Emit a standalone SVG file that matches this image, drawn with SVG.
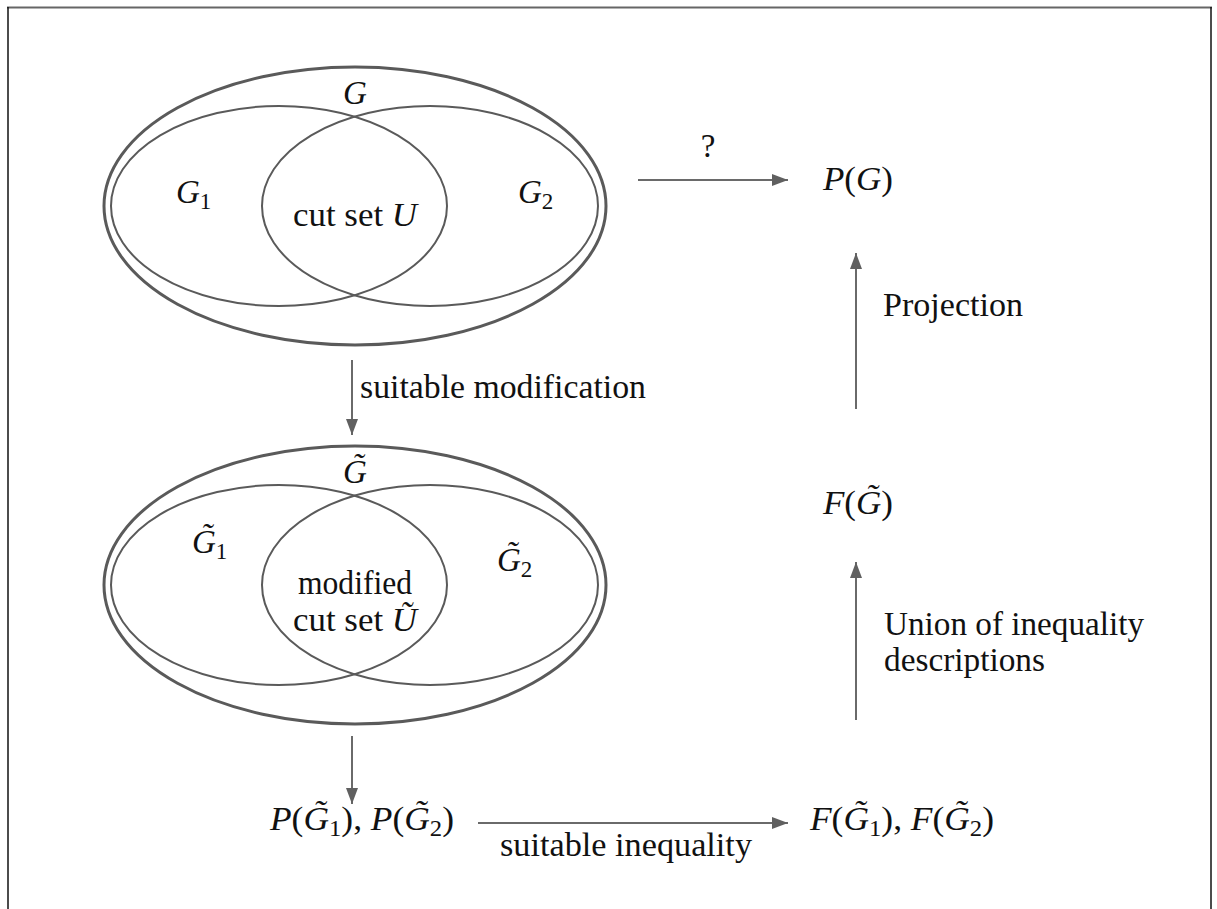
<svg xmlns="http://www.w3.org/2000/svg" width="1217" height="909" viewBox="0 0 1217 909">
<style>
text{font-family:"Liberation Serif","Times New Roman","DejaVu Serif",serif}
.t{font-size:33px;fill:#111}
.i{font-style:italic}
.s{font-size:23px;font-style:normal}
.outer{fill:none;stroke:#5a5a5a;stroke-width:3}
.inner{fill:none;stroke:#5a5a5a;stroke-width:2}
.c{stroke:#6a6a6a;stroke-width:2;fill:none}
</style>
<defs>
<marker id="ah" markerWidth="16" markerHeight="12" refX="16" refY="6" orient="auto" markerUnits="userSpaceOnUse">
<path d="M0,0 L16,6 L0,12 Z" fill="#606060"/>
</marker>
</defs>
<rect width="1217" height="909" fill="#fff"/>
<g id="frame">
<line x1="7" y1="7.5" x2="1212" y2="7.5" stroke="#666" stroke-width="2"/>
<line x1="8" y1="7" x2="8" y2="909" stroke="#111" stroke-width="1.5"/>
<line x1="1211" y1="7" x2="1211" y2="909" stroke="#111" stroke-width="1.5"/>
</g>
<g id="graphG">
<ellipse class="outer" cx="355" cy="206" rx="251" ry="139"/>
<ellipse class="inner" cx="279" cy="206" rx="168" ry="100"/>
<ellipse class="inner" cx="430" cy="206" rx="168" ry="100"/>
<text class="t i" x="355" y="104" text-anchor="middle">G</text>
<text class="t" x="176" y="203"><tspan class="i">G</tspan><tspan class="s" dy="6">1</tspan></text>
<text class="t" x="518" y="203"><tspan class="i">G</tspan><tspan class="s" dy="6">2</tspan></text>
<text class="t" x="293" y="226" textLength="124" lengthAdjust="spacingAndGlyphs">cut set <tspan class="i">U</tspan></text>
</g>
<g id="graphGtilde">
<ellipse class="outer" cx="355" cy="585" rx="251" ry="139"/>
<ellipse class="inner" cx="279" cy="585" rx="168" ry="100"/>
<ellipse class="inner" cx="430" cy="585" rx="168" ry="100"/>
<text class="t i" x="355" y="483" text-anchor="middle">G̃</text>
<text class="t" x="192" y="553"><tspan class="i">G̃</tspan><tspan class="s" dy="6">1</tspan></text>
<text class="t" x="497" y="571"><tspan class="i">G̃</tspan><tspan class="s" dy="6">2</tspan></text>
<text class="t" x="298" y="594" textLength="114" lengthAdjust="spacingAndGlyphs">modified</text>
<text class="t" x="293" y="631" textLength="124" lengthAdjust="spacingAndGlyphs">cut set <tspan class="i">Ũ</tspan></text>
</g>
<g id="PG">
<text class="t" x="823" y="190" textLength="70" lengthAdjust="spacingAndGlyphs"><tspan class="i">P</tspan>(<tspan class="i">G</tspan>)</text>
</g>
<g id="FGtilde">
<text class="t" x="823" y="514" textLength="70" lengthAdjust="spacingAndGlyphs"><tspan class="i">F</tspan>(<tspan class="i">G̃</tspan>)</text>
</g>
<g id="PG12">
<text class="t" x="270" y="830" textLength="184" lengthAdjust="spacingAndGlyphs"><tspan class="i">P</tspan>(<tspan class="i">G̃</tspan><tspan class="s" dy="6">1</tspan><tspan dy="-6">), </tspan><tspan class="i">P</tspan>(<tspan class="i">G̃</tspan><tspan class="s" dy="6">2</tspan><tspan dy="-6">)</tspan></text>
</g>
<g id="FG12">
<text class="t" x="810" y="830" textLength="184" lengthAdjust="spacingAndGlyphs"><tspan class="i">F</tspan>(<tspan class="i">G̃</tspan><tspan class="s" dy="6">1</tspan><tspan dy="-6">), </tspan><tspan class="i">F</tspan>(<tspan class="i">G̃</tspan><tspan class="s" dy="6">2</tspan><tspan dy="-6">)</tspan></text>
</g>
<g id="connectors">
<line class="c" x1="638" y1="180" x2="788" y2="180" marker-end="url(#ah)"/>
<line class="c" x1="856" y1="409" x2="856" y2="253" marker-end="url(#ah)"/>
<line class="c" x1="856" y1="720" x2="856" y2="562" marker-end="url(#ah)"/>
<line class="c" x1="352" y1="360" x2="352" y2="435" marker-end="url(#ah)"/>
<line class="c" x1="352" y1="736" x2="352" y2="804" marker-end="url(#ah)"/>
<line class="c" x1="478" y1="823" x2="788" y2="823" marker-end="url(#ah)"/>
<text class="t" x="708" y="157" text-anchor="middle">?</text>
<text class="t" x="883" y="316" textLength="140" lengthAdjust="spacingAndGlyphs">Projection</text>
<text class="t" x="884" y="635" textLength="260" lengthAdjust="spacingAndGlyphs">Union of inequality</text>
<text class="t" x="884" y="671" textLength="161" lengthAdjust="spacingAndGlyphs">descriptions</text>
<text class="t" x="360" y="398" textLength="286" lengthAdjust="spacingAndGlyphs">suitable modification</text>
<text class="t" x="500" y="856" textLength="252" lengthAdjust="spacingAndGlyphs">suitable inequality</text>
</g>
</svg>
